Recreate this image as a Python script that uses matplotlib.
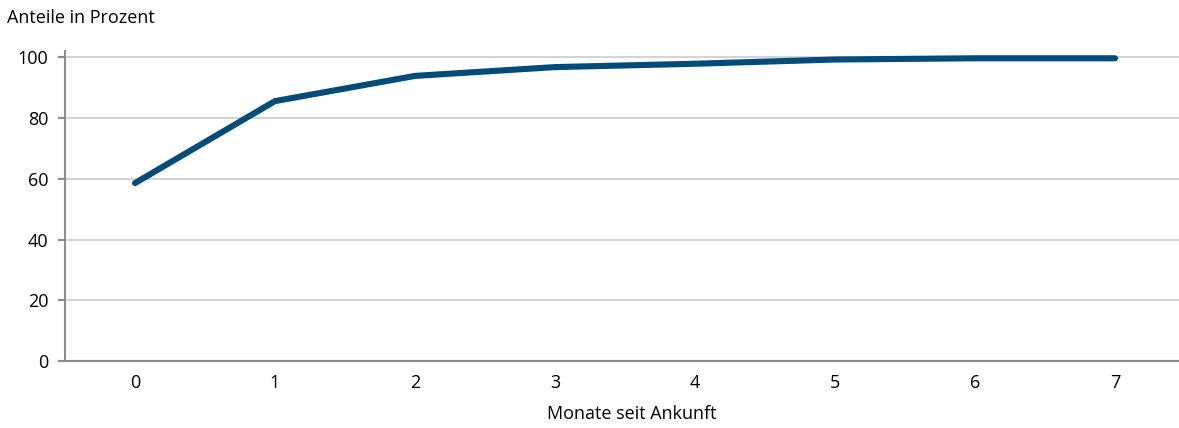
import matplotlib
matplotlib.use('Agg')
import matplotlib.pyplot as plt

# data
months = [0, 1, 2, 3, 4, 5, 6, 7]
share = [58.6, 85.6, 93.9, 96.8, 97.9, 99.3, 99.7, 99.7]
y_ticks = [0, 20, 40, 60, 80, 100]

plt.rcParams['font.family'] = ['Open Sans', 'DejaVu Sans']

fig = plt.figure(figsize=(11.79, 4.28), dpi=100)
ax = fig.add_axes([65 / 1179, 1 - 361 / 428, 1 - 65 / 1179, (361 - 50.7) / 428])

ax.plot(months, share, color='#004b78', linewidth=4.4, solid_capstyle='round', solid_joinstyle='round', zorder=3)

ax.set_xlim(-0.5, -0.5 + 1114 / 140)
ax.set_ylim(0, 102.2)
ax.set_yticks(y_ticks)
ax.set_xticks(months)
ax.yaxis.grid(True, color='#d4d4d4', linewidth=1.5)
ax.set_axisbelow(True)

for s in ['top', 'right']:
    ax.spines[s].set_visible(False)
for s in ['left', 'bottom']:
    ax.spines[s].set_color('#8c8c8c')
    ax.spines[s].set_linewidth(1.5)

ax.tick_params(axis='y', length=5, width=1.5, color='#8c8c8c', labelsize=13, pad=7)
ax.tick_params(axis='x', length=0, labelsize=13, pad=9)

ax.set_xlabel('Monate seit Ankunft', fontsize=13)
ax.xaxis.set_label_coords((632 - 65) / 1114, -(414 - 361) / 310.3)
ax.xaxis.label.set_va('center')
fig.text(7 / 1179, 1 - 18 / 428, 'Anteile in Prozent', fontsize=13, va='center', ha='left')

plt.savefig('out.png', dpi=100)
